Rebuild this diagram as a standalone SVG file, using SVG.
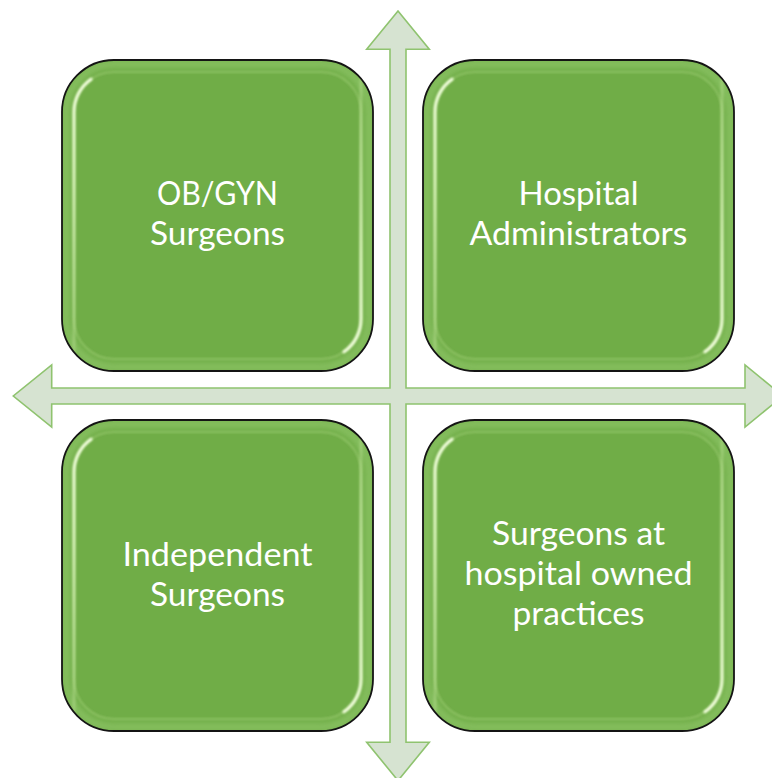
<svg xmlns="http://www.w3.org/2000/svg" xmlns:xlink="http://www.w3.org/1999/xlink" width="772" height="778" viewBox="0 0 772 778">
  <style>
    .axis { fill: #d6e3d1; stroke: #8fc36f; stroke-width: 1.6; stroke-linejoin: miter; }
    .tile-body { fill: #70ad47; }
    .tile-edge { fill: none; stroke: #141414; stroke-width: 1.8; }
    .label { fill: #ffffff; font-family: Lato, "Open Sans", "Liberation Sans", sans-serif; font-size: 33px; text-anchor: middle; }
  </style>
  <defs>
    <filter id="soft" x="-20%" y="-20%" width="140%" height="140%">
      <feGaussianBlur stdDeviation="3"/>
    </filter>
    <filter id="glint" x="-20%" y="-20%" width="140%" height="140%">
      <feGaussianBlur stdDeviation="1.1"/>
    </filter>
    <clipPath id="tileClip">
      <rect x="0" y="0" width="311" height="311" rx="52" ry="52"/>
    </clipPath>
    <linearGradient id="leftFade" gradientUnits="userSpaceOnUse" x1="0" y1="20" x2="0" y2="300">
      <stop offset="0" stop-color="#f4ffe0" stop-opacity="1"/>
      <stop offset="0.35" stop-color="#e6fbc8" stop-opacity="0.85"/>
      <stop offset="1" stop-color="#d6f2b0" stop-opacity="0.25"/>
    </linearGradient>
    <linearGradient id="rightFade" gradientUnits="userSpaceOnUse" x1="0" y1="291" x2="0" y2="10">
      <stop offset="0" stop-color="#f4ffe0" stop-opacity="1"/>
      <stop offset="0.35" stop-color="#e6fbc8" stop-opacity="0.85"/>
      <stop offset="1" stop-color="#d6f2b0" stop-opacity="0.25"/>
    </linearGradient>
    <!-- rounded green tile with a soft bevel and two corner glints -->
    <g id="tile">
      <rect class="tile-body" x="0" y="0" width="311" height="311" rx="52" ry="52"/>
      <g clip-path="url(#tileClip)">
        <rect x="4" y="4" width="303" height="303" rx="48" ry="48" fill="none" stroke="#9fd27a" stroke-width="7" opacity="0.55" filter="url(#soft)"/>
        <rect x="12" y="12" width="287" height="287" rx="40" ry="40" fill="none" stroke="#c9ee9f" stroke-width="2" opacity="0.3" filter="url(#glint)"/>
        <path d="M12,300 L12,52 A40,40 0 0 1 29,19.2" fill="none" stroke="url(#leftFade)" stroke-width="3.2" stroke-linecap="round" filter="url(#glint)"/>
        <path d="M299,10 L299,259 A40,40 0 0 1 282,291.8" fill="none" stroke="url(#rightFade)" stroke-width="3.2" stroke-linecap="round" filter="url(#glint)"/>
      </g>
      <rect class="tile-edge" x="0" y="0" width="311" height="311" rx="52" ry="52"/>
    </g>
  </defs>

  <!-- crossed double-headed axes -->
  <g id="connectors">
    <path class="axis" d="M398,11 L429.3,49.3 L406,49.3 L406,388 L745,388 L745,365 L783,396 L745,427 L745,404 L406,404 L406,742.3 L429.3,742.3 L398,780.6 L366.7,742.3 L390,742.3 L390,404 L51.7,404 L51.7,427 L13.3,396 L51.7,365 L51.7,388 L390,388 L390,49.3 L366.7,49.3 Z"/>
  </g>

  <g id="obgyn-surgeons">
    <use xlink:href="#tile" href="#tile" x="62" y="60"/>
    <text class="label" x="217.5" y="205" textLength="121" lengthAdjust="spacingAndGlyphs">OB/GYN</text>
    <text class="label" x="217.5" y="245" textLength="135" lengthAdjust="spacingAndGlyphs">Surgeons</text>
  </g>

  <g id="hospital-administrators">
    <use xlink:href="#tile" href="#tile" x="423" y="60"/>
    <text class="label" x="578.5" y="205" textLength="120" lengthAdjust="spacingAndGlyphs">Hospital</text>
    <text class="label" x="578.5" y="245" textLength="218" lengthAdjust="spacingAndGlyphs">Administrators</text>
  </g>

  <g id="independent-surgeons">
    <use xlink:href="#tile" href="#tile" x="62" y="420"/>
    <text class="label" x="217.5" y="566" textLength="190" lengthAdjust="spacingAndGlyphs">Independent</text>
    <text class="label" x="217.5" y="606" textLength="135" lengthAdjust="spacingAndGlyphs">Surgeons</text>
  </g>

  <g id="hospital-owned-practices">
    <use xlink:href="#tile" href="#tile" x="423" y="420"/>
    <text class="label" x="578.5" y="545" textLength="173" lengthAdjust="spacingAndGlyphs">Surgeons at</text>
    <text class="label" x="578.5" y="585" textLength="228" lengthAdjust="spacingAndGlyphs">hospital owned</text>
    <text class="label" x="578.5" y="625" textLength="132" lengthAdjust="spacingAndGlyphs">practices</text>
  </g>
</svg>
